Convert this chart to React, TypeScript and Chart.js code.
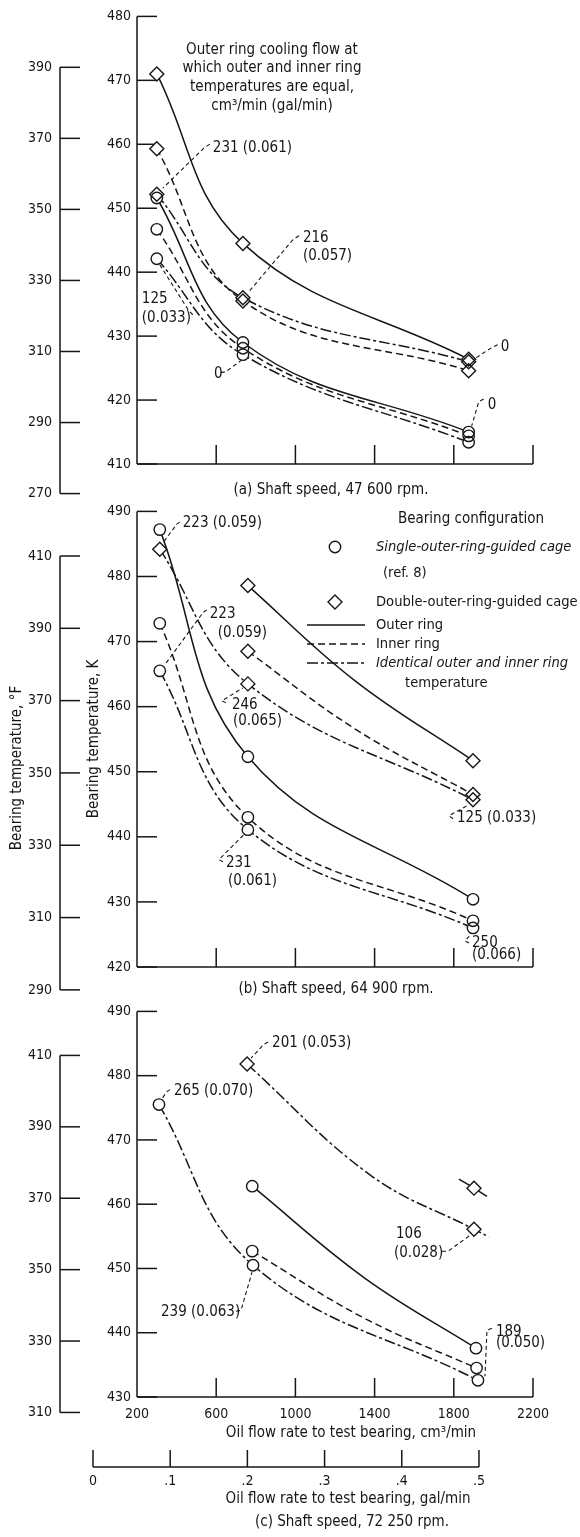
import React, { useEffect, useRef } from "react";
import { Chart, registerables } from "chart.js";

Chart.register(...registerables);

const FONT_FAMILY = '"DejaVu Sans Condensed", "DejaVu Sans", sans-serif';
const INK = "#161616";

// ---------------- axis values ----------------
const FLOW_TICKS = [200, 600, 1000, 1400, 1800, 2200]; // cm3/min
const GAL_TICKS = [0, 0.1, 0.2, 0.3, 0.4, 0.5]; // gal/min
const GAL_LABELS = ["0", ".1", ".2", ".3", ".4", ".5"];
const A_K_TICKS = [410, 420, 430, 440, 450, 460, 470, 480];
const A_F_TICKS = [270, 290, 310, 330, 350, 370, 390];
const B_K_TICKS = [420, 430, 440, 450, 460, 470, 480, 490];
const B_F_TICKS = [290, 310, 330, 350, 370, 390, 410];
const C_K_TICKS = [430, 440, 450, 460, 470, 480, 490];
const C_F_TICKS = [310, 330, 350, 370, 390, 410];

// ---------------- (a) 47 600 rpm ----------------
const A_FLOW = [300, 735, 1875];
const A_SINGLE_OUTER = [451.6, 429.0, 415.0];
const A_SINGLE_INNER = [446.7, 428.1, 414.4];
const A_SINGLE_IDENT = [442.1, 427.1, 413.4];
const A_DOUBLE_OUTER = [471.0, 444.5, 426.4];
const A_DOUBLE_INNER = [459.3, 435.5, 424.6];
const A_DOUBLE_IDENT = [452.2, 436.0, 426.0];

// ---------------- (b) 64 900 rpm ----------------
const B_FLOW = [315, 760, 1897];
const B_SINGLE_OUTER = [487.2, 452.3, 430.4];
const B_SINGLE_INNER = [472.8, 443.0, 427.1];
const B_SINGLE_IDENT = [465.5, 441.1, 426.0];
const B_DOUBLE_FLOW = [760, 1300, 1897];
const B_DOUBLE_MARK = [true, false, true];
const B_DOUBLE_OUTER = [478.6, 464.0, 451.7];
const B_DOUBLE_INNER = [468.5, 456.6, 446.5];
const B_DOUBLE_IDENT = [484.2, 463.5, 445.7];

// ---------------- (c) 72 250 rpm ----------------
const C_SINGLE_OUTER_FLOW = [782, 1350, 1912];
const C_SINGLE_OUTER = [462.8, 448.5, 437.6];
const C_SINGLE_INNER_FLOW = [782, 1352, 1915];
const C_SINGLE_INNER = [452.7, 442.2, 434.5];
const C_SINGLE_MARK = [true, false, true];
const C_SINGLE_IDENT_FLOW = [311, 786, 1922];
const C_SINGLE_IDENT = [475.5, 450.5, 432.6];
const C_DOUBLE_IDENT_FLOW = [756, 1380, 1902, 1978];
const C_DOUBLE_IDENT = [481.8, 464.5, 456.1, 454.9];
const C_DOUBLE_IDENT_MARK = [true, false, true, false];
const C_DOUBLE_OUTER_FLOW = [1826, 1902, 1968];
const C_DOUBLE_OUTER = [463.9, 462.5, 461.2];
const C_DOUBLE_OUTER_MARK = [false, true, false];

type Kind = "outer" | "inner" | "ident";
type Series = {
  key: string;
  flow: number[];
  temp: number[];
  mark?: boolean[];
  kind: Kind;
  shape: "circle" | "diamond";
};
type Note = { s: string; i: number; text: [string, number, number][]; leader: [number, number][] };
type Txt = { s: string; x: number; y: number; size?: number; align?: CanvasTextAlign; italic?: boolean; rot?: boolean };

const DASH: Record<Kind, number[]> = { outer: [], inner: [7, 4], ident: [11, 3, 3, 3] };

const toF = (k: number) => ((k - 273.15) * 9) / 5 + 32;

type PanelSpec = {
  id: string;
  top: number;
  height: number;
  padTop: number;
  padBottom: number;
  xAxisHeight: number;
  kMin: number;
  kMax: number;
  kTicks: number[];
  fTicks: number[];
  xLabels: boolean;
  gal?: boolean;
  legend?: boolean;
  series: Series[];
  notes: Note[];
  texts: Txt[];
};

const PANELS: PanelSpec[] = [
  {
    id: "a",
    top: 0,
    height: 505,
    padTop: 14,
    padBottom: 31,
    xAxisHeight: 10,
    kMin: 410,
    kMax: 480,
    kTicks: A_K_TICKS,
    fTicks: A_F_TICKS,
    xLabels: false,
    series: [
      { key: "sOuter", flow: A_FLOW, temp: A_SINGLE_OUTER, kind: "outer", shape: "circle" },
      { key: "sInner", flow: A_FLOW, temp: A_SINGLE_INNER, kind: "inner", shape: "circle" },
      { key: "sIdent", flow: A_FLOW, temp: A_SINGLE_IDENT, kind: "ident", shape: "circle" },
      { key: "dOuter", flow: A_FLOW, temp: A_DOUBLE_OUTER, kind: "outer", shape: "diamond" },
      { key: "dInner", flow: A_FLOW, temp: A_DOUBLE_INNER, kind: "inner", shape: "diamond" },
      { key: "dIdent", flow: A_FLOW, temp: A_DOUBLE_IDENT, kind: "ident", shape: "diamond" },
    ],
    notes: [
      { s: "dIdent", i: 0, text: [["231 (0.061)", 56, -46]], leader: [[53, -50], [47, -46], [6, -6]] },
      { s: "dIdent", i: 1, text: [["216", 60, -60], ["(0.057)", 60, -42]], leader: [[56, -62], [50, -58], [5, -5]] },
      { s: "dIdent", i: 2, text: [["0", 32, -15]], leader: [[29, -17], [23, -14], [6, -3]] },
      { s: "sOuter", i: 2, text: [["0", 19, -27]], leader: [[15, -33], [10, -30], [3, -6]] },
      { s: "sIdent", i: 0, text: [["125", -15, 40], ["(0.033)", -15, 59]], leader: [[36, 56], [32, 52], [3, 6]] },
      { s: "sIdent", i: 1, text: [["0", -29, 19]], leader: [[-22, 18], [-17, 17], [-2, 6]] },
    ],
    texts: [
      { s: "Outer ring cooling flow at", x: 272, y: 50, align: "center" },
      { s: "which outer and inner ring", x: 272, y: 68, align: "center" },
      { s: "temperatures are equal,", x: 272, y: 87, align: "center" },
      { s: "cm³/min (gal/min)", x: 272, y: 106, align: "center" },
      { s: "(a) Shaft speed, 47 600 rpm.", x: 331, y: 490, align: "center" },
    ],
  },
  {
    id: "b",
    top: 495,
    height: 515,
    padTop: 16,
    padBottom: 33,
    xAxisHeight: 10,
    kMin: 420,
    kMax: 490,
    kTicks: B_K_TICKS,
    fTicks: B_F_TICKS,
    xLabels: false,
    legend: true,
    series: [
      { key: "sOuter", flow: B_FLOW, temp: B_SINGLE_OUTER, kind: "outer", shape: "circle" },
      { key: "sInner", flow: B_FLOW, temp: B_SINGLE_INNER, kind: "inner", shape: "circle" },
      { key: "sIdent", flow: B_FLOW, temp: B_SINGLE_IDENT, kind: "ident", shape: "circle" },
      { key: "dOuter", flow: B_DOUBLE_FLOW, temp: B_DOUBLE_OUTER, mark: B_DOUBLE_MARK, kind: "outer", shape: "diamond" },
      { key: "dInner", flow: B_DOUBLE_FLOW, temp: B_DOUBLE_INNER, mark: B_DOUBLE_MARK, kind: "inner", shape: "diamond" },
      { key: "dIdent", flow: B_FLOW, temp: B_DOUBLE_IDENT, kind: "ident", shape: "diamond" },
    ],
    notes: [
      { s: "dIdent", i: 0, text: [["223 (0.059)", 23, -26]], leader: [[20, -27], [17, -25], [3, -6]] },
      { s: "sIdent", i: 0, text: [["223", 50, -57], ["(0.059)", 58, -38]], leader: [[47, -61], [43, -58], [5, -6]] },
      { s: "dIdent", i: 1, text: [["246", -16, 21], ["(0.065)", -15, 37]], leader: [[-22, 19], [-26, 17], [-5, 4]] },
      { s: "sIdent", i: 1, text: [["231", -22, 33], ["(0.061)", -20, 51]], leader: [[-25, 32], [-29, 30], [-4, 5]] },
      { s: "dIdent", i: 2, text: [["125 (0.033)", -16, 18]], leader: [[-20, 19], [-24, 16], [-4, 5]] },
      { s: "sIdent", i: 2, text: [["250", -1, 15], ["(0.066)", -1, 27]], leader: [[-4, 15], [-8, 13], [-2, 6]] },
    ],
    texts: [
      { s: "(b) Shaft speed, 64 900 rpm.", x: 336, y: 989, align: "center" },
      { s: "Bearing temperature, K", x: 94, y: 739, align: "center", rot: true },
      { s: "Bearing temperature, °F", x: 17, y: 768, align: "center", rot: true },
    ],
  },
  {
    id: "c",
    top: 995,
    height: 542,
    padTop: 16,
    padBottom: 28,
    xAxisHeight: 47,
    kMin: 430,
    kMax: 490,
    kTicks: C_K_TICKS,
    fTicks: C_F_TICKS,
    xLabels: true,
    gal: true,
    series: [
      { key: "sOuter", flow: C_SINGLE_OUTER_FLOW, temp: C_SINGLE_OUTER, mark: C_SINGLE_MARK, kind: "outer", shape: "circle" },
      { key: "sInner", flow: C_SINGLE_INNER_FLOW, temp: C_SINGLE_INNER, mark: C_SINGLE_MARK, kind: "inner", shape: "circle" },
      { key: "sIdent", flow: C_SINGLE_IDENT_FLOW, temp: C_SINGLE_IDENT, kind: "ident", shape: "circle" },
      { key: "dOuter", flow: C_DOUBLE_OUTER_FLOW, temp: C_DOUBLE_OUTER, mark: C_DOUBLE_OUTER_MARK, kind: "outer", shape: "diamond" },
      { key: "dIdent", flow: C_DOUBLE_IDENT_FLOW, temp: C_DOUBLE_IDENT, mark: C_DOUBLE_IDENT_MARK, kind: "ident", shape: "diamond" },
    ],
    notes: [
      { s: "dIdent", i: 0, text: [["201 (0.053)", 25, -21]], leader: [[21, -22], [17, -20], [4, -6]] },
      { s: "sIdent", i: 0, text: [["265 (0.070)", 15, -13]], leader: [[11, -15], [8, -13], [3, -6]] },
      { s: "dIdent", i: 2, text: [["106", -78, 5], ["(0.028)", -80, 24]], leader: [[-32, 22], [-26, 22], [-4, 6]] },
      { s: "sIdent", i: 1, text: [["239 (0.063)", -92, 47]], leader: [[-17, 46], [-12, 45], [-1, 7]] },
      { s: "sIdent", i: 2, text: [["189", 18, -48], ["(0.050)", 18, -37]], leader: [[14, -52], [9, -50], [7, -4]] },
    ],
    texts: [
      { s: "Oil flow rate to test bearing, cm³/min", x: 351, y: 1433, align: "center" },
      { s: "Oil flow rate to test bearing, gal/min", x: 348, y: 1499, align: "center" },
      { s: "(c) Shaft speed, 72 250 rpm.", x: 352, y: 1522, align: "center" },
    ],
  },
];

// gal/min axis range matched to the cm3/min chart area
const GAL_MIN = 0.057;
const GAL_MAX = 0.57;

const CIRCLE_R = 5.7;
const DIAMOND_R = 7;

function seg(ctx: CanvasRenderingContext2D, x1: number, y1: number, x2: number, y2: number) {
  ctx.beginPath();
  ctx.moveTo(x1, y1);
  ctx.lineTo(x2, y2);
  ctx.stroke();
}

function txt(ctx: CanvasRenderingContext2D, t: Txt, dy: number) {
  ctx.save();
  ctx.font = `${t.italic ? "italic " : ""}${t.size || 15}px ${FONT_FAMILY}`;
  ctx.fillStyle = INK;
  ctx.textAlign = t.align || "left";
  ctx.textBaseline = "middle";
  if (t.rot) {
    ctx.translate(t.x, t.y - dy);
    ctx.rotate(-Math.PI / 2);
    ctx.fillText(t.s, 0, 0);
  } else {
    ctx.fillText(t.s, t.x, t.y - dy);
  }
  ctx.restore();
}

function marker(ctx: CanvasRenderingContext2D, shape: string, x: number, y: number) {
  ctx.beginPath();
  if (shape === "circle") ctx.arc(x, y, CIRCLE_R, 0, Math.PI * 2);
  else {
    ctx.moveTo(x - DIAMOND_R, y);
    ctx.lineTo(x, y - DIAMOND_R);
    ctx.lineTo(x + DIAMOND_R, y);
    ctx.lineTo(x, y + DIAMOND_R);
    ctx.closePath();
  }
  ctx.fillStyle = "#fff";
  ctx.fill();
  ctx.stroke();
}

function makeDecor(p: PanelSpec) {
  return {
    id: "decor" + p.id,
    beforeDatasetsDraw(chart: any) {
      const ctx: CanvasRenderingContext2D = chart.ctx;
      const area = chart.chartArea;
      const x = chart.scales.x;
      const k = chart.scales.k;
      const f = chart.scales.f;
      ctx.save();
      ctx.strokeStyle = INK;
      ctx.lineWidth = 1.5;
      ctx.setLineDash([]);
      // K axis
      seg(ctx, area.left, area.top, area.left, area.bottom);
      for (const t of k.ticks) {
        const y = k.getPixelForValue(t.value);
        seg(ctx, area.left, y, area.left + 20, y);
      }
      // F axis
      const fv = f.ticks.map((t: any) => t.value);
      const fx = f.right;
      seg(ctx, fx, f.getPixelForValue(Math.max(...fv)), fx, f.getPixelForValue(Math.min(...fv)));
      for (const v of fv) {
        const y = f.getPixelForValue(v);
        seg(ctx, fx, y, fx + 20, y);
      }
      // flow axis
      seg(ctx, area.left, area.bottom, area.right, area.bottom);
      for (const t of x.ticks) {
        if (t.value <= x.min) continue;
        const px = x.getPixelForValue(t.value);
        seg(ctx, px, area.bottom, px, area.bottom - 19);
      }
      // gal/min axis
      const g = chart.scales.gal;
      if (g) {
        const by = g.top + 23;
        seg(ctx, g.getPixelForValue(GAL_TICKS[0]), by, g.getPixelForValue(GAL_TICKS[GAL_TICKS.length - 1]), by);
        for (const t of g.ticks) {
          const px = g.getPixelForValue(t.value);
          seg(ctx, px, by, px, by - 17);
        }
      }
      ctx.restore();
    },
    afterDraw(chart: any) {
      const ctx: CanvasRenderingContext2D = chart.ctx;
      const x = chart.scales.x;
      const k = chart.scales.k;
      ctx.save();
      // annotations
      for (const n of p.notes) {
        const s = p.series.find((q) => q.key === n.s)!;
        const mx = x.getPixelForValue(s.flow[n.i]);
        const my = k.getPixelForValue(s.temp[n.i]);
        ctx.strokeStyle = INK;
        ctx.lineWidth = 1.1;
        ctx.setLineDash([4, 3]);
        ctx.beginPath();
        n.leader.forEach(([dx, dy], j) => (j === 0 ? ctx.moveTo(mx + dx, my + dy) : ctx.lineTo(mx + dx, my + dy)));
        ctx.stroke();
        ctx.setLineDash([]);
        for (const [str, dx, dy] of n.text) {
          txt(ctx, { s: str, x: mx + dx, y: my + dy }, 0);
        }
      }
      for (const t of p.texts) txt(ctx, t, p.top);
      if (p.legend) {
        const dy = p.top;
        txt(ctx, { s: "Bearing configuration", x: 471, y: 519, align: "center" }, dy);
        ctx.strokeStyle = INK;
        ctx.lineWidth = 1.4;
        marker(ctx, "circle", 335, 547 - dy);
        txt(ctx, { s: "Single-outer-ring-guided cage", x: 376, y: 547, italic: true, size: 14.6 }, dy);
        txt(ctx, { s: "(ref. 8)", x: 383, y: 573, size: 14.6 }, dy);
        marker(ctx, "diamond", 335, 602 - dy);
        txt(ctx, { s: "Double-outer-ring-guided cage", x: 376, y: 602, size: 14.6 }, dy);
        const rows: [Kind, string, number, boolean][] = [
          ["outer", "Outer ring", 625, false],
          ["inner", "Inner ring", 644, false],
          ["ident", "Identical outer and inner ring", 663, true],
        ];
        for (const [kind, label, y, it] of rows) {
          ctx.lineWidth = 1.6;
          ctx.setLineDash(DASH[kind]);
          seg(ctx, 307, y - dy, 365, y - dy);
          ctx.setLineDash([]);
          txt(ctx, { s: label, x: 376, y, italic: it, size: 14.6 }, dy);
        }
        txt(ctx, { s: "temperature", x: 405, y: 683, size: 14.6 }, dy);
      }
      ctx.restore();
    },
  };
}

function buildConfig(p: PanelSpec): any {
  const datasets: any[] = [];
  for (const s of p.series) {
    const pts = s.flow.map((f, i) => ({ x: f, y: s.temp[i] }));
    datasets.push({
      data: pts,
      xAxisID: "x",
      yAxisID: "k",
      borderColor: INK,
      borderWidth: 1.5,
      borderDash: DASH[s.kind],
      pointRadius: 0,
      tension: 0.4,
      fill: false,
      clip: false,
      order: 3,
    });
    const marks = pts.filter((_, i) => (s.mark ? s.mark[i] : true));
    const style = s.shape === "circle" ? "circle" : "rectRot";
    const r = s.shape === "circle" ? CIRCLE_R : DIAMOND_R;
    datasets.push({
      data: marks,
      xAxisID: "x",
      yAxisID: "k",
      showLine: false,
      pointStyle: style,
      pointRadius: r,
      pointBackgroundColor: "#fff",
      pointBorderColor: "#fff",
      pointBorderWidth: 1,
      clip: false,
      order: 2,
    });
    datasets.push({
      data: marks,
      xAxisID: "x",
      yAxisID: "k",
      showLine: false,
      pointStyle: style,
      pointRadius: r,
      pointBackgroundColor: "rgba(0,0,0,0)",
      pointBorderColor: INK,
      pointBorderWidth: 1.4,
      clip: false,
      order: 1,
    });
  }

  const tickFont = { family: FONT_FAMILY, size: 14 };
  const scales: any = {
    x: {
      type: "linear",
      position: "bottom",
      min: FLOW_TICKS[0],
      max: FLOW_TICKS[FLOW_TICKS.length - 1],
      weight: 0,
      grid: { display: false, drawTicks: false },
      border: { display: false },
      ticks: {
        display: p.xLabels,
        padding: 9,
        font: tickFont,
        color: INK,
        autoSkip: false,
        maxRotation: 0,
        callback: (v: number) => String(v),
      },
      afterBuildTicks: (s: any) => {
        s.ticks = FLOW_TICKS.map((v) => ({ value: v }));
      },
      afterFit: (s: any) => {
        s.height = p.xAxisHeight;
      },
    },
    k: {
      type: "linear",
      position: "left",
      min: p.kMin,
      max: p.kMax,
      weight: 0,
      grid: { display: false, drawTicks: false },
      border: { display: false },
      ticks: { padding: 6, font: tickFont, color: INK, autoSkip: false, callback: (v: number) => String(v) },
      afterBuildTicks: (s: any) => {
        s.ticks = p.kTicks.map((v) => ({ value: v }));
      },
      afterFit: (s: any) => {
        s.width = 77;
      },
    },
    f: {
      type: "linear",
      axis: "y",
      position: "left",
      min: toF(p.kMin),
      max: toF(p.kMax),
      weight: 1,
      grid: { display: false, drawTicks: false },
      border: { display: false },
      ticks: { padding: 8, font: tickFont, color: INK, autoSkip: false, callback: (v: number) => String(v) },
      afterBuildTicks: (s: any) => {
        s.ticks = p.fTicks.map((v) => ({ value: v }));
      },
      afterFit: (s: any) => {
        s.width = 60;
      },
    },
  };
  if (p.gal) {
    scales.gal = {
      type: "linear",
      axis: "x",
      position: "bottom",
      min: GAL_MIN,
      max: GAL_MAX,
      weight: 1,
      grid: { display: false, drawTicks: false },
      border: { display: false },
      ticks: {
        padding: 29,
        font: tickFont,
        color: INK,
        autoSkip: false,
        maxRotation: 0,
        callback: (_v: number, i: number) => GAL_LABELS[i],
      },
      afterBuildTicks: (s: any) => {
        s.ticks = GAL_TICKS.map((v) => ({ value: v }));
      },
      afterFit: (s: any) => {
        s.height = 65;
      },
    };
  }

  return {
    type: "line",
    data: { datasets },
    options: {
      animation: false,
      responsive: false,
      maintainAspectRatio: false,
      devicePixelRatio: 1,
      layout: { padding: { top: p.padTop, right: 47, bottom: p.padBottom, left: 0 } },
      plugins: { legend: { display: false }, tooltip: { enabled: false }, title: { display: false } },
      events: [],
      scales,
    },
    plugins: [makeDecor(p)],
  };
}

function Panel({ spec }: { spec: PanelSpec }) {
  const ref = useRef<HTMLCanvasElement>(null);
  useEffect(() => {
    const chart = new Chart(ref.current!, buildConfig(spec));
    return () => chart.destroy();
  }, [spec]);
  return (
    <canvas
      ref={ref}
      width={580}
      height={spec.height}
      style={{ position: "absolute", left: 0, top: spec.top, width: 580, height: spec.height }}
    />
  );
}

export default function App() {
  return (
    <div style={{ position: "absolute", left: 0, top: 0, width: 580, height: 1537, background: "#fff", overflow: "hidden" }}>
      {PANELS.map((p) => (
        <Panel key={p.id} spec={p} />
      ))}
    </div>
  );
}
